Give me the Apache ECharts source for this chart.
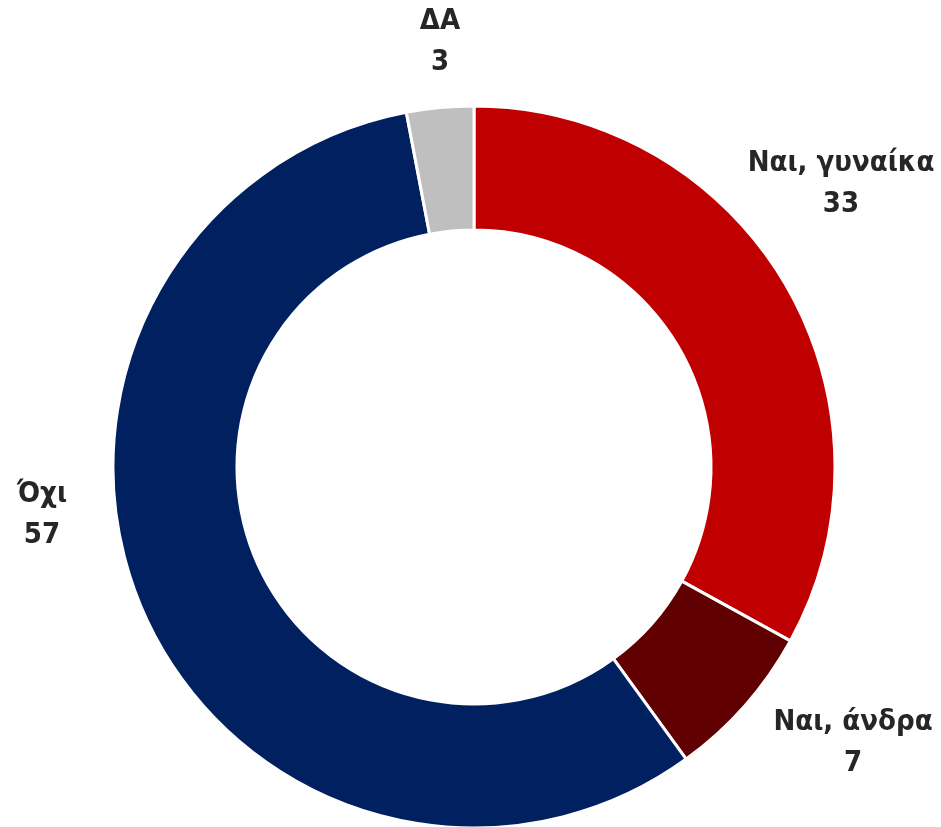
<!DOCTYPE html>
<html>
<head>
<meta charset="utf-8">
<script src="https://cdn.jsdelivr.net/npm/echarts@6/dist/echarts.min.js"></script>
<style>
    html, body { margin: 0; padding: 0; background: #fff; }
    #chart { width: 941px; height: 827px; }
</style>
</head>
<body>
<div id="chart"></div>
<script>
var categories = ['Ναι, γυναίκα', 'Ναι, άνδρα', 'Όχι', 'ΔΑ'];
var values = [33, 7, 57, 3];
var colors = ['#C00000', '#600000', '#002060', '#BFBFBF'];

// where the labels were dragged to in the original (label centres)
var labelSpots = [[841, 184], [853, 743], [42, 515], [440, 42]];

var myChart = echarts.init(document.getElementById('chart'));

var data = categories.map(function (name, i) {
    return { name: name, value: values[i], itemStyle: { color: colors[i] } };
});

var option = {
    animation: false,
    series: [{
        type: 'pie',
        center: [474, 467],
        radius: [237, 361],
        startAngle: 90,
        clockwise: true,
        itemStyle: {
            borderColor: '#fff',
            borderWidth: 3
        },
        label: {
            show: true,
            position: 'outside',
            formatter: '{b}\n{c}',
            fontFamily: '"DejaVu Sans Condensed", "Liberation Sans Narrow", sans-serif',
            fontWeight: 'bold',
            fontSize: 29,
            lineHeight: 41,
            color: '#262626',
            align: 'center',
            overflow: 'none'
        },
        labelLine: { show: false },
        labelLayout: function (params) {
            var p = labelSpots[params.dataIndex];
            return { x: p[0], y: p[1], align: 'center', verticalAlign: 'middle' };
        },
        data: data
    }]
};

myChart.setOption(option);
</script>
</body>
</html>
